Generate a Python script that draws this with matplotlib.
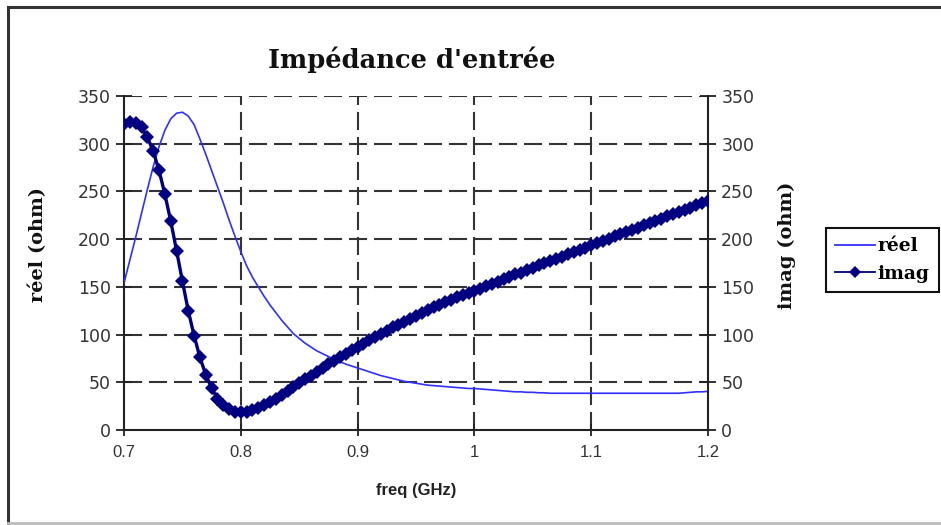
import numpy as np
import matplotlib
matplotlib.use("Agg")
import matplotlib.pyplot as plt
from matplotlib.lines import Line2D

# Frequency sweep (GHz), 0.7 to 1.2 in 5 MHz steps
freq_ghz = np.linspace(0.7, 1.2, 101)

# Real part of the input impedance (ohm)
reel = [
    154, 178, 202, 227, 252, 276, 297, 314, 326, 332,
    333, 329, 320, 305, 289, 272, 255, 238, 220, 203,
    187, 172, 160, 150, 140, 131, 123, 115, 108, 101,
    96, 91, 87, 83, 80, 77, 74, 71.5, 69, 67,
    65, 63, 61, 59, 57, 55.5, 54, 52.5, 51, 50,
    49, 48, 47, 46.5, 46, 45.5, 45, 44.5, 44, 43.5,
    43.5, 43, 42.5, 42, 41.5, 41, 40.5, 40, 40, 39.5,
    39.5, 39, 39, 38.5, 38.5, 38.5, 38.5, 38.5, 38.5, 38.5,
    38.5, 38.5, 38.5, 38.5, 38.5, 38.5, 38.5, 38.5, 38.5, 38.5,
    38.5, 38.5, 38.5, 38.5, 38.5, 38.5, 39, 39.5, 40, 40,
    40.5,
]

# Imaginary part of the input impedance (ohm)
imag = [
    321, 323, 322, 317, 307, 292, 272, 247, 219, 188,
    156, 125, 99, 76, 58, 44, 33, 26, 21.5, 19,
    18.5, 19, 20.5, 23, 26, 29.5, 33, 37, 41, 45,
    49, 53, 57, 61, 65, 69, 72.5, 76, 80, 83.5,
    87, 90.5, 94, 97.5, 101, 104, 107.5, 110.5, 113.5, 116.5,
    119.5, 122.5, 125.5, 128.5, 131, 134, 136.5, 139, 141.5, 143.5,
    145.5, 148, 150.5, 153, 155.5, 158, 160.5, 163, 165, 167.5,
    170, 172.5, 174.5, 177, 179.5, 181.5, 184, 186.5, 189, 191,
    193.5, 196, 198, 200.5, 203, 205, 207.5, 210, 212, 214.5,
    217, 219, 221.5, 224, 226, 228.5, 231, 233, 235.5, 237.5,
    240,
]

x_ticks = [0.7, 0.8, 0.9, 1.0, 1.1, 1.2]
x_ticklabels = ["0.7", "0.8", "0.9", "1", "1.1", "1.2"]
y_ticks = [0, 50, 100, 150, 200, 250, 300, 350]

title = "Impédance d'entrée"
xlabel = "freq (GHz)"
ylabel_left = "réel (ohm)"
ylabel_right = "imag (ohm)"

plt.rcParams["lines.scale_dashes"] = False

W, H = 941, 525
fig = plt.figure(figsize=(W / 100, H / 100), dpi=100)
fig.patch.set_facecolor("white")

ax = fig.add_axes([124 / W, 1 - 430 / H, (708 - 124) / W, (430 - 96) / H])
ax2 = ax.twinx()

serif = "DejaVu Serif"
sans = "Liberation Sans"
axis_col = "#222222"
grid_col = "#333333"

# Dashed grid at the inner tick positions
for xv in x_ticks[1:-1]:
    ax.axvline(xv, color=grid_col, lw=1.5, ls=(0, (13, 5)), zorder=1)
for yv in y_ticks[1:]:
    ax.axhline(yv, color=grid_col, lw=1.5, ls=(0, (13, 5)), zorder=1)

line_reel, = ax.plot(freq_ghz, reel, color="#3030ff", lw=1.2, zorder=3, label="réel")
line_imag, = ax2.plot(freq_ghz, imag, color="#000080", lw=2.4, marker="D",
                      markersize=7.2, markeredgewidth=0, zorder=3, label="imag")

for a in (ax, ax2):
    a.set_xlim(0.7, 1.2)
    a.set_ylim(0, 350)
    a.set_yticks(y_ticks)
    a.patch.set_visible(False)
    a.spines["top"].set_visible(False)
    for side in ("left", "right", "bottom"):
        a.spines[side].set_color(axis_col)
        a.spines[side].set_linewidth(1.5)

ax.spines["right"].set_visible(False)
ax2.spines["left"].set_visible(False)
ax2.spines["bottom"].set_visible(False)

ax.set_xticks(x_ticks)
ax.set_xticklabels(x_ticklabels)
ax.tick_params(axis="x", direction="inout", length=9, width=1.3, color=axis_col,
               labelsize=12, labelcolor="#333333", pad=6)
ax.tick_params(axis="y", direction="inout", length=11, width=1.3, color=axis_col,
               labelsize=12.5, labelcolor="#333333", pad=4)
ax2.tick_params(axis="y", direction="inout", length=11, width=1.3, color=axis_col,
                labelsize=12.5, labelcolor="#333333", pad=4)
for lbl in ax.get_xticklabels():
    lbl.set_family(sans)
for lbl in ax.get_yticklabels() + ax2.get_yticklabels():
    lbl.set_family("DejaVu Sans")

fig.text(412 / W, 1 - 60 / H, title, ha="center", va="center",
         fontsize=18.5, fontweight="bold", family=serif, color="#111111")
fig.text(416 / W, 1 - 491 / H, xlabel, ha="center", va="center",
         fontsize=12, fontweight="bold", family=sans, color="#222222")
fig.text(38 / W, 1 - 245 / H, ylabel_left, ha="center", va="center", rotation=90,
         fontsize=14, fontweight="bold", family=serif, color="#111111")
fig.text(787 / W, 1 - 245 / H, ylabel_right, ha="center", va="center", rotation=90,
         fontsize=14, fontweight="bold", family=serif, color="#111111")

leg = fig.legend(handles=[line_reel, line_imag], loc="upper left",
                 bbox_to_anchor=(826 / W, 1 - 228 / H), frameon=True,
                 fancybox=False, framealpha=1, edgecolor="#111111",
                 prop={"family": serif, "weight": "bold", "size": 13.5},
                 handlelength=2.1, handletextpad=0.15, borderpad=0.5,
                 labelspacing=0.5, borderaxespad=0)
leg.get_frame().set_linewidth(1.5)
for h in leg.legend_handles:
    h.set_linewidth(1.3)
    h.set_markersize(6.5)

# Outer chart frame
fig.add_artist(Line2D([8 / W, 8 / W], [1 - 7 / H, 1 - 523 / H],
                      transform=fig.transFigure, color="#333333", lw=2.2))
fig.add_artist(Line2D([8 / W, 1.0], [1 - 7 / H, 1 - 7 / H],
                      transform=fig.transFigure, color="#333333", lw=2.2))
fig.add_artist(Line2D([8 / W, 1.0], [1 - 523 / H, 1 - 523 / H],
                      transform=fig.transFigure, color="#bbbbbb", lw=2))

fig.savefig("out.png", dpi=100, facecolor="white")
